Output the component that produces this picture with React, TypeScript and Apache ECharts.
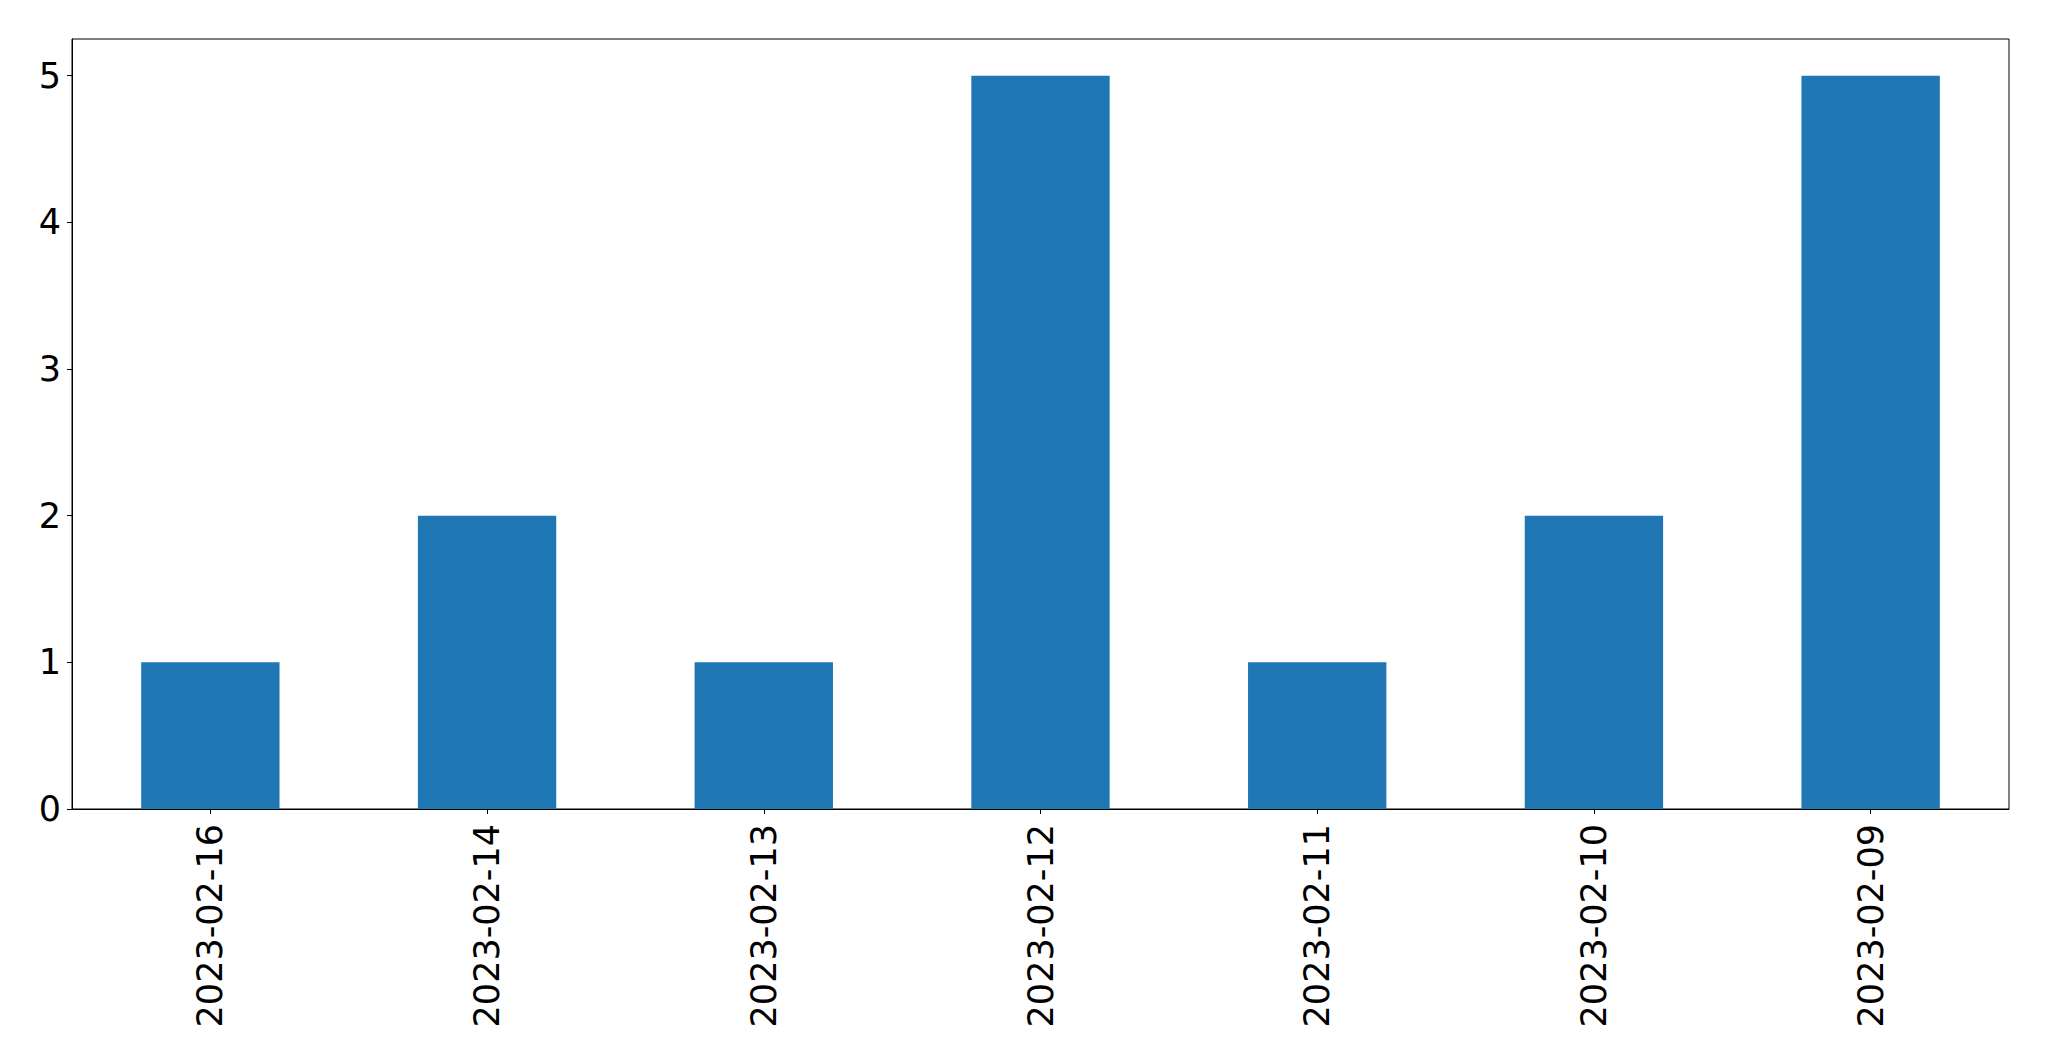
import React, { useEffect, useRef } from "react";
import * as echarts from "echarts";

const categories = ["2023-02-16", "2023-02-14", "2023-02-13", "2023-02-12", "2023-02-11", "2023-02-10", "2023-02-09"];
const counts = [1, 2, 1, 5, 1, 2, 5];
const yTicks = [0, 1, 2, 3, 4, 5];

export default function App() {
  const ref = useRef<HTMLDivElement>(null);
  useEffect(() => {
    document.body.style.margin = "0";
    const chart = echarts.init(ref.current!, null, { renderer: "svg" });
    const font = "DejaVu Sans";
    chart.setOption({
      animation: false,
      backgroundColor: "#ffffff",
      grid: {
        left: 72,
        top: 39,
        width: 1937,
        height: 770,
        show: true,
        borderColor: "#000000",
        borderWidth: 1,
        containLabel: false,
      },
      xAxis: {
        type: "category",
        data: categories,
        boundaryGap: true,
        axisLine: { show: true, lineStyle: { color: "#000000", width: 1 } },
        axisTick: { show: true, alignWithLabel: true, length: 5, lineStyle: { color: "#000000", width: 1 } },
        axisLabel: {
          rotate: 90,
          margin: 15,
          color: "#000000",
          fontSize: 35,
          fontFamily: font,
          interval: 0,
        },
        splitLine: { show: false },
      },
      yAxis: {
        type: "value",
        min: 0,
        max: 5.25,
        interval: 1,
        axisLine: { show: true, lineStyle: { color: "#000000", width: 1 } },
        axisTick: { show: true, length: 5, lineStyle: { color: "#000000", width: 1 }, customValues: yTicks },
        axisLabel: {
          margin: 11,
          color: "#000000",
          fontSize: 35,
          fontFamily: font,
          customValues: yTicks,
        },
        splitLine: { show: false },
      },
      series: [
        {
          type: "bar",
          data: counts,
          barWidth: "50%",
          itemStyle: { color: "#1f77b4" },
        },
      ],
    });
    return () => chart.dispose();
  }, []);
  return <div ref={ref} style={{ position: "absolute", left: 0, top: 0, width: 2049, height: 1061 }} />;
}
